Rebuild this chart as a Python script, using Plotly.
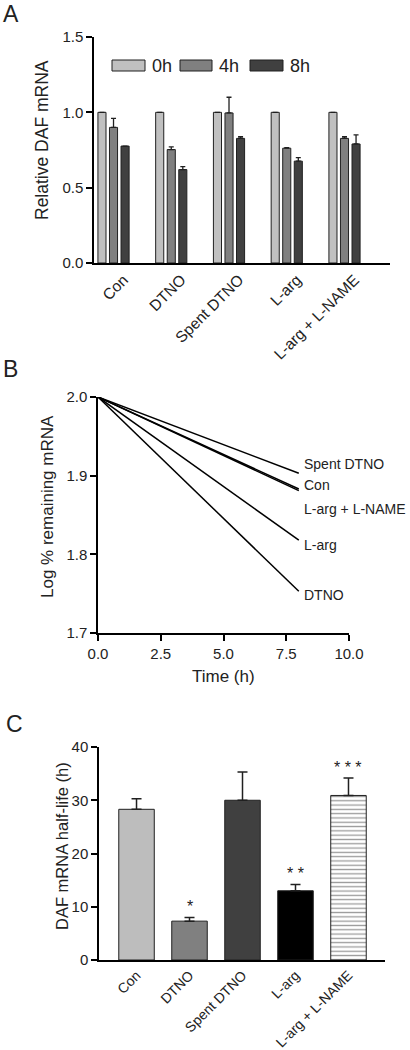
import plotly.graph_objects as go

# ---------------- data ----------------
groups = ["Con", "DTNO", "Spent DTNO", "L-arg", "L-arg + L-NAME"]

# Panel A: relative DAF mRNA at 0h, 4h, 8h
series_names = ["0h", "4h", "8h"]
val_0h = [1.0, 1.0, 1.0, 1.0, 1.0]
err_0h = [0.0, 0.0, 0.0, 0.0, 0.0]
val_4h = [0.90, 0.753, 0.996, 0.762, 0.827]
err_4h = [0.06, 0.018, 0.104, 0.003, 0.011]
val_8h = [0.776, 0.620, 0.827, 0.676, 0.790]
err_8h = [0.0, 0.020, 0.011, 0.024, 0.060]

# Panel B: log % remaining mRNA (linear fits from t=0 to t=8 h)
time_h = [0, 8]
line_names = ["Spent DTNO", "Con", "L-arg + L-NAME", "L-arg", "DTNO"]
log_start = [2.0, 2.0, 2.0, 2.0, 2.0]
log_end = [1.903, 1.883, 1.881, 1.818, 1.753]

# Panel C: DAF mRNA half-life (h)
half_life = [28.3, 7.3, 30.0, 13.0, 30.9]
half_err = [2.0, 0.7, 5.3, 1.2, 3.3]
signif = ["", "*", "", "* *", "* * *"]

# ---------------- styles ----------------
FONT = "Liberation Sans, Arial, sans-serif"
W, H = 410, 1050
colA = ["#c0c0c0", "#808080", "#404040"]
colC = ["#bdbdbd", "#808080", "#404040", "#000000"]

def px2x(px):
    return px / W

def px2y(py):
    return 1 - py / H

fig = go.Figure()

# ---- Panel A bars ----
offsets = [-0.2, 0.0, 0.2]
bw = 0.14
for name, vals, errs, col, off in zip(series_names, [val_0h, val_4h, val_8h],
                                      [err_0h, err_4h, err_8h], colA, offsets):
    fig.add_trace(go.Bar(
        x=list(range(len(groups))), y=vals, name=name,
        width=bw, offset=off - bw / 2,
        marker=dict(color=col, line=dict(color="#202020", width=1)),
        error_y=dict(type="data", array=errs, arrayminus=[0] * len(errs),
                     symmetric=False, color="#202020", thickness=1.3, width=2.5),
        xaxis="x", yaxis="y", showlegend=False,
    ))

# ---- Panel B lines ----
for name, y0, y1 in zip(line_names, log_start, log_end):
    fig.add_trace(go.Scatter(
        x=time_h, y=[y0, y1], mode="lines", name=name,
        line=dict(color="black", width=1.5),
        xaxis="x2", yaxis="y2", showlegend=False,
    ))

# ---- Panel C bars (solid ones, then the hatched one) ----
cw = 0.67
nsolid = len(colC)
xc = list(range(len(groups)))
fig.add_trace(go.Bar(
    x=xc[:nsolid], y=half_life[:nsolid], width=cw, offset=-cw / 2,
    marker=dict(color=colC, line=dict(color="#202020", width=1)),
    error_y=dict(type="data", array=half_err[:nsolid], arrayminus=[0] * nsolid,
                 symmetric=False, color="#202020", thickness=1.5, width=5),
    xaxis="x3", yaxis="y3", showlegend=False,
))
fig.add_trace(go.Bar(
    x=xc[nsolid:], y=half_life[nsolid:], width=cw, offset=-cw / 2,
    marker=dict(color="#ffffff", line=dict(color="#202020", width=1),
                pattern=dict(shape="-", fgcolor="#9a9a9a", bgcolor="#ffffff",
                             fillmode="replace", size=4.3, solidity=0.3)),
    error_y=dict(type="data", array=half_err[nsolid:], arrayminus=[0],
                 symmetric=False, color="#202020", thickness=1.5, width=5),
    xaxis="x3", yaxis="y3", showlegend=False,
))

axis_common = dict(showline=True, linecolor="black", linewidth=1.5,
                   showgrid=False, zeroline=False, ticks="outside",
                   ticklen=6, tickwidth=1.5, tickcolor="black", automargin=False,
                   tickfont=dict(family=FONT, size=15, color="#222"))
cat_font = dict(family=FONT, size=15.5, color="#222")

fig.update_layout(
    template="none",
    width=W, height=H,
    margin=dict(l=0, r=0, t=0, b=0, pad=0),
    paper_bgcolor="white", plot_bgcolor="white",
    font=dict(family=FONT, color="#222"),
    barmode="group",
    xaxis=dict(**{**axis_common, "ticks": "", "tickangle": -45, "tickfont": cat_font},
               ticklabelshift=10,
               domain=[px2x(94), px2x(390)], range=[-0.338, 4.788],
               tickmode="array", tickvals=list(range(len(groups))), ticktext=groups,
               anchor="y"),
    yaxis=dict(**axis_common, domain=[px2y(263), px2y(37)], range=[0, 1.5],
               tickvals=[0, 0.5, 1.0, 1.5], tickformat=".1f", anchor="x"),
    xaxis2=dict(**axis_common,
                domain=[px2x(98), px2x(349)], range=[0, 10],
                tickvals=[0, 2.5, 5, 7.5, 10], tickformat=".1f", anchor="y2"),
    yaxis2=dict(**axis_common,
                domain=[px2y(633), px2y(397)], range=[1.7, 2.0],
                tickvals=[1.7, 1.8, 1.9, 2.0], tickformat=".1f", anchor="x2"),
    xaxis3=dict(**{**axis_common, "ticks": "", "tickangle": -45,
                   "tickfont": dict(family=FONT, size=14, color="#222")},
                domain=[px2x(99), px2x(385)], range=[-0.708, 4.689],
                tickmode="array", tickvals=list(range(len(groups))), ticktext=groups,
                anchor="y3"),
    yaxis3=dict(**axis_common, domain=[px2y(960), px2y(747)], range=[0, 40],
                tickvals=[0, 10, 20, 30, 40], anchor="x3"),
)

ann = []
# Panel letters
for letter, x, y in [("A", 11, 14), ("B", 10, 369), ("C", 15, 724)]:
    ann.append(dict(text=letter, x=px2x(x), y=px2y(y), xref="paper", yref="paper",
                    xanchor="center", yanchor="middle",
                    showarrow=False, font=dict(family=FONT, size=23, color="#222")))
# Axis titles
for text, x, y, size in [("Relative DAF mRNA", 42, 140, 17.5),
                         ("Log % remaining mRNA", 47, 507, 17),
                         ("DAF mRNA half-life (h)", 62, 846, 16.5)]:
    ann.append(dict(text=text, x=px2x(x), y=px2y(y), xref="paper", yref="paper",
                    xanchor="center", yanchor="middle",
                    textangle=-90, showarrow=False,
                    font=dict(family=FONT, size=size, color="#222")))
ann.append(dict(text="Time (h)", x=px2x(223.5), y=px2y(676), xref="paper", yref="paper",
                xanchor="center", yanchor="middle",
                showarrow=False, font=dict(family=FONT, size=17, color="#222")))

# Panel B line labels
label_shift = {"Spent DTNO": 9.5, "Con": 4, "L-arg + L-NAME": -18.5, "L-arg": -4.5, "DTNO": -3.5}
for name, y1 in zip(line_names, log_end):
    ann.append(dict(text=name, x=time_h[-1], y=y1, xref="x2", yref="y2",
                    xanchor="left", yanchor="middle", xshift=3, yshift=label_shift[name],
                    showarrow=False, font=dict(family=FONT, size=14, color="#222")))

# Panel C significance stars
for i, (v, e, s) in enumerate(zip(half_life, half_err, signif)):
    if s:
        ann.append(dict(text=s, x=i, y=v + e, xref="x3", yref="y3",
                        xanchor="center", yanchor="bottom", yshift=0,
                        showarrow=False, font=dict(family=FONT, size=16, color="#222")))

# Panel A legend (drawn as wide swatches like the original)
shapes = []
legend_items = [(112, 145, 150), (180, 212, 217), (250, 283, 288)]
for (x0, x1, tx), name, col in zip(legend_items, series_names, colA):
    shapes.append(dict(type="rect", xref="paper", yref="paper",
                       x0=px2x(x0), x1=px2x(x1), y0=px2y(71), y1=px2y(60),
                       fillcolor=col, line=dict(color="#202020", width=1)))
    ann.append(dict(text=name, x=px2x(tx), y=px2y(65.5), xref="paper", yref="paper",
                    xanchor="left", yanchor="middle", showarrow=False,
                    font=dict(family=FONT, size=18, color="#222")))

fig.update_layout(annotations=ann, shapes=shapes)

fig.write_html("out.html", config={"displayModeBar": False},
               post_script="document.body.style.margin='0';")
